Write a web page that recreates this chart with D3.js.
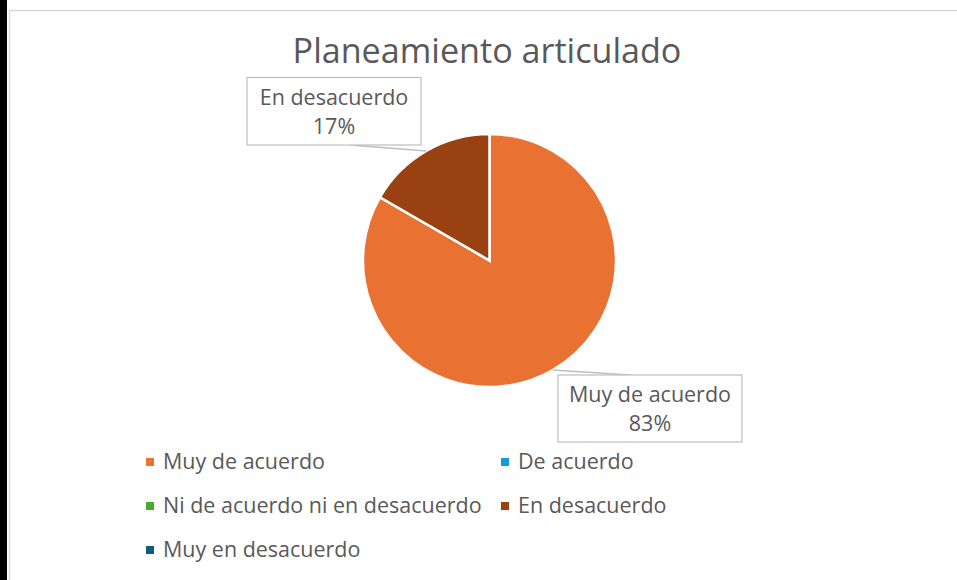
<!DOCTYPE html>
<html>
<head>
<meta charset="utf-8">
<script src="https://cdn.jsdelivr.net/npm/d3@7"></script>
<style>
  html, body { margin: 0; padding: 0; background: #ffffff; }
  svg { display: block; }
</style>
</head>
<body>
<svg id="chart" width="957" height="580"></svg>
<script>
// ---- data ----
const title = "Planeamiento articulado";
const categories = ["Muy de acuerdo", "De acuerdo", "Ni de acuerdo ni en desacuerdo", "En desacuerdo", "Muy en desacuerdo"];
const values = [5, 0, 0, 1, 0];
const colors = ["#E97132", "#0F9ED5", "#4EA72E", "#994111", "#095E80"];

// ---- layout ----
const W = 957, H = 580;
const FONT = "'Open Sans', 'DejaVu Sans', sans-serif";
const TEXT = "#595959";
const svg = d3.select("#chart");

// frame
svg.append("rect").attr("x", 0).attr("y", 0).attr("width", 7).attr("height", H).attr("fill", "#000");
svg.append("rect").attr("x", 9.5).attr("y", 10.5).attr("width", W + 20).attr("height", H + 20)
  .attr("fill", "#fff").attr("stroke", "#d9d9d9").attr("stroke-width", 1.5);

// font fitting helper
function fitSize(str, target, base) {
  const t = svg.append("text").attr("font-family", FONT).attr("font-size", base).text(str);
  const w = t.node().getComputedTextLength();
  t.remove();
  return base * target / w;
}
const titleSize = fitSize(title, 389, 30);
const bodySize = fitSize(categories[0], 162, 18);

// title
svg.append("text").attr("x", 487).attr("y", 63).attr("text-anchor", "middle")
  .attr("font-family", FONT).attr("font-size", titleSize).attr("fill", TEXT).text(title);

// pie
const cx = 489.5, cy = 260.5, R = 126.5;
const total = d3.sum(values);
const pie = d3.pie().sort(null).value(d => d.value);
const data = categories.map((c, i) => ({ cat: c, value: values[i], color: colors[i] }));
const arcs = pie(data);
const arc = d3.arc().innerRadius(0).outerRadius(R);
const g = svg.append("g").attr("transform", `translate(${cx},${cy})`);
g.selectAll("path").data(arcs.filter(a => a.data.value > 0)).join("path")
  .attr("d", arc).attr("fill", d => d.data.color)
  .attr("stroke", "#fff").attr("stroke-width", 2.5).attr("stroke-linejoin", "miter");

// data labels with leader lines
const labelBoxes = {
  "Muy de acuerdo": { x: 558, y: 375, w: 184, h: 67, attach: [630, 375] },
  "En desacuerdo": { x: 247, y: 77.5, w: 174, h: 67.5, attach: [350, 145] }
};
arcs.filter(a => a.data.value > 0).forEach(a => {
  const b = labelBoxes[a.data.cat];
  const mid = (a.startAngle + a.endAngle) / 2;
  const px = cx + R * Math.sin(mid), py = cy - R * Math.cos(mid);
  svg.append("polyline")
    .attr("points", [[px, py], b.attach].map(p => p.join(",")).join(" "))
    .attr("fill", "none").attr("stroke", "#bfbfbf").attr("stroke-width", 1.5);
  svg.append("rect").attr("x", b.x).attr("y", b.y).attr("width", b.w).attr("height", b.h)
    .attr("fill", "#fff").attr("stroke", "#bfbfbf").attr("stroke-width", 1.2);
  const pct = Math.round(a.data.value / total * 100) + "%";
  svg.append("text").attr("x", b.x + b.w / 2).attr("y", b.y + 27).attr("text-anchor", "middle")
    .attr("font-family", FONT).attr("font-size", bodySize).attr("fill", TEXT).text(a.data.cat);
  svg.append("text").attr("x", b.x + b.w / 2).attr("y", b.y + 56).attr("text-anchor", "middle")
    .attr("font-family", FONT).attr("font-size", bodySize).attr("fill", TEXT).text(pct);
});

// legend
const legX = [146, 501], legY = [469, 513, 557];
const leg = svg.append("g");
data.forEach((d, i) => {
  const col = i % 2, row = Math.floor(i / 2);
  const x = legX[col], y = legY[row];
  leg.append("rect").attr("x", x).attr("y", y - 11).attr("width", 8).attr("height", 8).attr("fill", d.color);
  leg.append("text").attr("x", x + 17).attr("y", y)
    .attr("font-family", FONT).attr("font-size", bodySize).attr("fill", TEXT).text(d.cat);
});
</script>
</body>
</html>
